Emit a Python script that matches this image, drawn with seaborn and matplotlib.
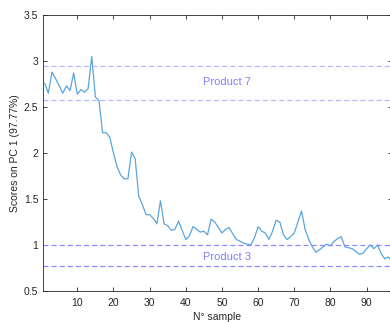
import numpy as np
import pandas as pd
import matplotlib
matplotlib.use("Agg")
import matplotlib.pyplot as plt
import seaborn as sns

# ===================
# Data
# ===================
sample = list(range(1, 98))
scores = [
    2.76, 2.65, 2.88, 2.81, 2.73, 2.65, 2.73, 2.68, 2.87, 2.64,
    2.69, 2.66, 2.70, 3.05, 2.61, 2.57, 2.22, 2.22, 2.17, 2.00,
    1.85, 1.76, 1.72, 1.72, 2.01, 1.94, 1.53, 1.44, 1.33, 1.33,
    1.29, 1.23, 1.48, 1.23, 1.21, 1.16, 1.17, 1.26, 1.16, 1.06,
    1.10, 1.20, 1.17, 1.14, 1.15, 1.11, 1.28, 1.25, 1.19, 1.13,
    1.17, 1.19, 1.12, 1.06, 1.04, 1.02, 1.01, 1.00, 1.08, 1.20,
    1.15, 1.13, 1.06, 1.15, 1.27, 1.25, 1.11, 1.06, 1.09, 1.13,
    1.25, 1.37, 1.17, 1.06, 0.98, 0.92, 0.95, 0.98, 1.01, 0.99,
    1.04, 1.07, 1.09, 0.98, 0.97, 0.96, 0.93, 0.90, 0.91, 0.96,
    1.00, 0.96, 1.00, 0.91, 0.85, 0.87, 0.82,
]

product_names = ["Product 7", "Product 3"]
product_upper = [2.95, 1.00]
product_lower = [2.58, 0.77]
product_label_y = [2.77, 0.87]

x_ticks = [10, 20, 30, 40, 50, 60, 70, 80, 90]
y_ticks = [0.5, 1, 1.5, 2, 2.5, 3, 3.5]

df = pd.DataFrame({"sample": sample, "score": scores})

# ===================
# Plot
# ===================
sns.set_style("ticks")
plt.rcParams["font.family"] = ["Liberation Sans", "DejaVu Sans"]

fig = plt.figure(figsize=(3.9, 3.22), dpi=100)
ax = fig.add_axes([0.111, 0.0963, 0.893, 0.857])

sns.lineplot(data=df, x="sample", y="score", ax=ax, color="#5aa5dc", linewidth=0.9)

line_colors = ["#b8b8ff", "#8a8aff"]
for name, hi, lo, ly, lc in zip(product_names, product_upper, product_lower,
                                product_label_y, line_colors):
    ax.axhline(hi, color=lc, linestyle=(0, (4, 2.5)), linewidth=0.9)
    ax.axhline(lo, color=lc, linestyle=(0, (4, 2.5)), linewidth=0.9)
    ax.text(51.3, ly, name, color="#8080ff", fontsize=8, ha="center", va="center")

ax.set_xlim(0.6, 96.9)
ax.set_ylim(0.5, 3.5)
ax.set_xticks(x_ticks)
ax.set_yticks(y_ticks)
ax.set_yticklabels(["0.5", "1", "1.5", "2", "2.5", "3", "3.5"])
ax.set_xlabel("N° sample", fontsize=7.5, color="#262626", labelpad=3)
ax.set_ylabel("Scores on PC 1 (97.77%)", fontsize=7.5, color="#262626", labelpad=3)

ax.tick_params(direction="in", length=3, width=0.6, labelsize=7.5,
               colors="#262626", top=True, right=True)
ax.tick_params(axis="x", pad=5)
for side in ["left", "right", "top", "bottom"]:
    ax.spines[side].set_visible(True)
    ax.spines[side].set_color("#262626")
    ax.spines[side].set_linewidth(0.6)

fig.savefig("out.png", dpi=100)
plt.close(fig)
